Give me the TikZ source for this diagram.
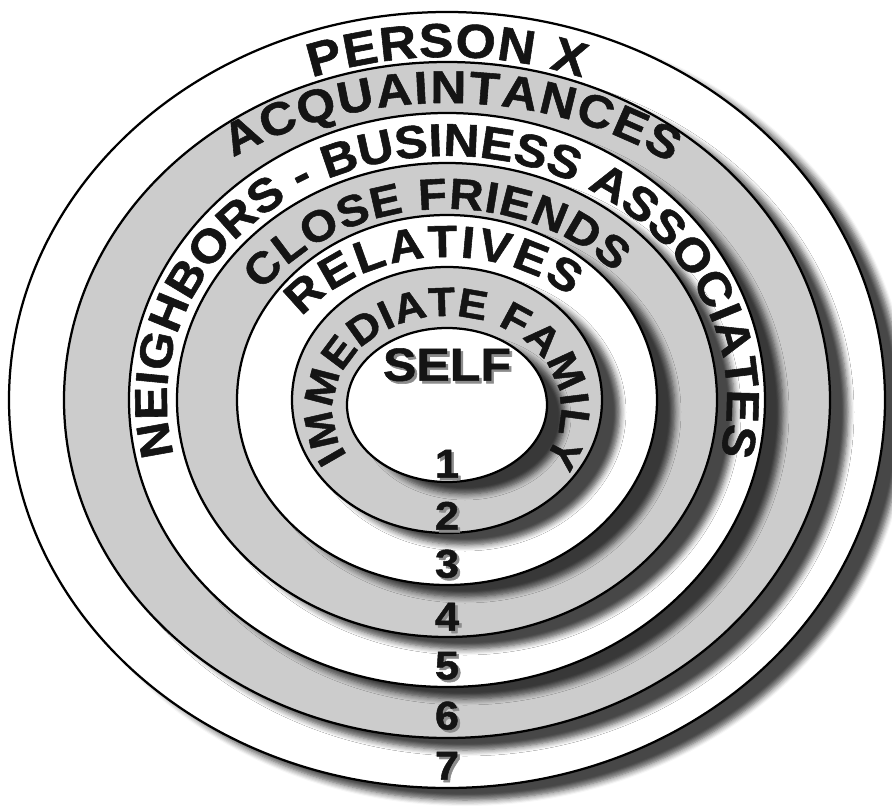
\documentclass[tikz,border=0pt]{standalone}
\usepackage{fontspec}
\setmainfont{Liberation Sans}
\newfontfamily\ringfont[FakeStretch=1.08,FakeBold=1.2]{Liberation Sans}
\usetikzlibrary{decorations.text,shadows.blur}

\definecolor{bandgrey}{gray}{0.8}
\definecolor{inkgrey}{gray}{0.08}
\definecolor{softgrey}{gray}{0.55}

\newcommand{\embossed}[1]{\makebox[0pt][l]{\hspace{1.8pt}\raisebox{-1.8pt}{\color{softgrey}#1}}#1}

\tikzset{
  ring/.style={draw=black,line width=1.6pt,
    blur shadow={shadow xshift=4.5mm,shadow yshift=-3mm,shadow opacity=72,
      shadow blur radius=1.5mm,shadow blur steps=6}},
  whitering/.style={ring,fill=white},
  greyring/.style={ring,fill=bandgrey},
  arctext/.style 2 args={
    preaction={decorate,transform canvas={shift={(1.8pt,-1.8pt)}},
      decoration={text along path,text align={fit to path},
        text={|\fontsize{#2}{#2}\selectfont\ringfont\bfseries\color{softgrey}|#1}}},
    decorate,decoration={text along path,text align={fit to path},
      text={|\fontsize{#2}{#2}\selectfont\ringfont\bfseries\color{inkgrey}|#1}}},
  digit/.style={font=\fontsize{28.5}{28.5}\selectfont\ringfont\bfseries,text=inkgrey,inner sep=0pt}
}

\begin{document}
\begin{tikzpicture}[x=0.25mm,y=0.25mm,line cap=round,line join=round]
  \useasboundingbox (-447,-406) rectangle (445,400);
  % rings, outside in
  \path[whitering] (0,0) ellipse (438 and 388);
  \path[greyring] (0,0) ellipse (383 and 338);
  \path[whitering] (0,0) ellipse (318 and 287);
  \path[greyring] (0,0) ellipse (270 and 237);
  \path[whitering] (0,0) ellipse (210 and 185);
  \path[greyring] (0,0) ellipse (155 and 133);
  \path[whitering] (0,-5) ellipse (100 and 77);
  % names of the rings
  \path[arctext={PERSON X}{34}] (110:395 and 343) arc[start angle=110,end angle=70,x radius=395,y radius=343];
  \path[arctext={ACQUAINTANCES}{32.7}] (125.3:370 and 297) arc[start angle=125.3,end angle=52.9,x radius=370,y radius=297];
  \path[arctext={NEIGHBORS - BUSINESS ASSOCIATES}{32.7}] (193:280 and 244) arc[start angle=193,end angle=-12.6,x radius=280,y radius=244];
  \path[arctext={CLOSE FRIENDS}{31}] (145.3:225 and 191) arc[start angle=145.3,end angle=41.7,x radius=225,y radius=191];
  \path[arctext={RELATIVES}{32}] (144.6:178 and 143) arc[start angle=144.6,end angle=46.3,x radius=178,y radius=143];
  \path[arctext={IMMEDIATE FAMILY}{29},shift={(0,-10)}] (208.9:114 and 94) arc[start angle=208.9,end angle=-32,x radius=114,y radius=94];
  \node[digit,font=\fontsize{33}{33}\selectfont\ringfont\bfseries] (self) at (0,34) {\embossed{SELF}};
  % ring numbers
  \node[digit] (n1) at (0,-65) {\embossed{1}};
  \node[digit] (n2) at (0,-117) {\embossed{2}};
  \node[digit] (n3) at (0,-165) {\embossed{3}};
  \node[digit] (n4) at (0,-218) {\embossed{4}};
  \node[digit] (n5) at (0,-267) {\embossed{5}};
  \node[digit] (n6) at (0,-317) {\embossed{6}};
  \node[digit] (n7) at (0,-367) {\embossed{7}};
\end{tikzpicture}
\end{document}
